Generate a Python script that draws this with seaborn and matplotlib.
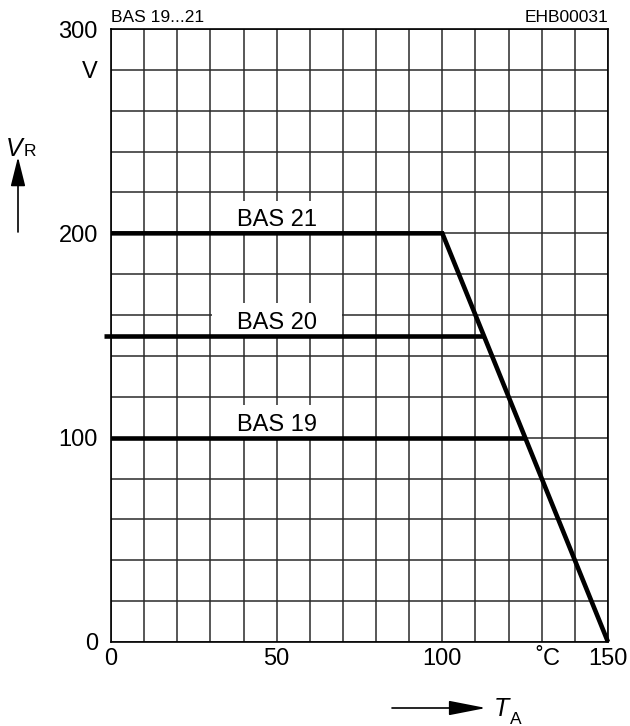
import matplotlib
matplotlib.use("Agg")
import matplotlib.pyplot as plt
from matplotlib.patches import Rectangle
import seaborn as sns
import pandas as pd

sns.set_theme(style="white")
plt.rcParams['font.family'] = ['Liberation Sans', 'DejaVu Sans']
plt.rcParams['text.color'] = 'black'
plt.rcParams['xtick.color'] = 'black'
plt.rcParams['ytick.color'] = 'black'

# Data
bas21_t = [0, 100, 150]
bas21_v = [200, 200, 0]
bas20_t = [-2, 112.5]
bas20_v = [150, 150]
bas19_t = [0, 125]
bas19_v = [100, 100]
labels = ["BAS 21", "BAS 20", "BAS 19"]
label_pos_t = [50, 50, 50]
label_pos_v = [200, 150, 100]
xticks = [0, 50, 100, 132, 150]
xticklabels = ["0", "50", "100", "˚C", "150"]
yticks = [0, 100, 200, 280, 300]
yticklabels = ["0", "100", "200", "V", "300"]

df = pd.concat([
    pd.DataFrame({"T": bas21_t, "V": bas21_v, "s": "BAS 21"}),
    pd.DataFrame({"T": bas20_t, "V": bas20_v, "s": "BAS 20"}),
    pd.DataFrame({"T": bas19_t, "V": bas19_v, "s": "BAS 19"}),
])

W, H = 630, 726
L, R, T, B = 111, 608, 29, 642
fig = plt.figure(figsize=(W / 100, H / 100), dpi=100)
ax = fig.add_axes([L / W, 1 - B / H, (R - L) / W, (B - T) / H])

ax.set_xlim(0, 150)
ax.set_ylim(0, 300)
for x in range(0, 151, 10):
    ax.axvline(x, color="#2a2a2a", lw=1.1, zorder=1)
for y in range(0, 301, 20):
    ax.axhline(y, color="#2a2a2a", lw=1.1, zorder=1)

for name in ["BAS 21", "BAS 20", "BAS 19"]:
    sub = df[df.s == name]
    sns.lineplot(data=sub, x="T", y="V", ax=ax, color="black", lw=3.3,
                 sort=False, estimator=None, zorder=4, clip_on=False,
                 solid_capstyle="butt", solid_joinstyle="miter")

for lab, t, v in zip(labels, label_pos_t, label_pos_v):
    ax.add_patch(Rectangle((t - 19.6, v), 39.2, 16, facecolor="white",
                           edgecolor="none", zorder=2))
    ax.text(t, v + 3.4, lab, fontsize=17, ha="center", va="baseline", zorder=3)

for s in ax.spines.values():
    s.set_visible(True)
    s.set_color("black")
    s.set_linewidth(1.2)

ax.set_xticks(xticks)
ax.set_xticklabels(xticklabels, fontsize=17)
ax.set_yticks(yticks)
ax.set_yticklabels(yticklabels, fontsize=17)
ax.tick_params(axis="x", length=0, pad=4.5)
ax.tick_params(axis="y", length=0, pad=9.5)
ax.set_xlabel("")
ax.set_ylabel("")

fig.text(L / W, 1 - 22 / H, "BAS 19...21", fontsize=12.5, ha="left", va="baseline")
fig.text(R / W, 1 - 22 / H, "EHB00031", fontsize=12.5, ha="right", va="baseline")

# axis quantity labels with arrows
fig.text(6 / W, 1 - 156 / H, "V", fontsize=18, style="italic", ha="left", va="baseline")
fig.text(23.5 / W, 1 - 156 / H, "R", fontsize=12.5, ha="left", va="baseline")
ax.annotate("", xy=(18 / W, 1 - 157 / H), xytext=(18 / W, 1 - 232 / H),
            xycoords="figure fraction", textcoords="figure fraction",
            arrowprops=dict(arrowstyle="-|>,head_length=1.8,head_width=0.45",
                            mutation_scale=10, color="black", lw=1.2,
                            shrinkA=0, shrinkB=0))
ax.annotate("", xy=(486 / W, 1 - 708 / H), xytext=(392 / W, 1 - 708 / H),
            xycoords="figure fraction", textcoords="figure fraction",
            arrowprops=dict(arrowstyle="-|>,head_length=2.3,head_width=0.45",
                            mutation_scale=10, color="black", lw=1.2,
                            shrinkA=0, shrinkB=0))
fig.text(494 / W, 1 - 716 / H, "T", fontsize=18, style="italic", ha="left", va="baseline")
fig.text(509.5 / W, 1 - 724 / H, "A", fontsize=12.5, ha="left", va="baseline")

fig.savefig("out.png", dpi=100)
